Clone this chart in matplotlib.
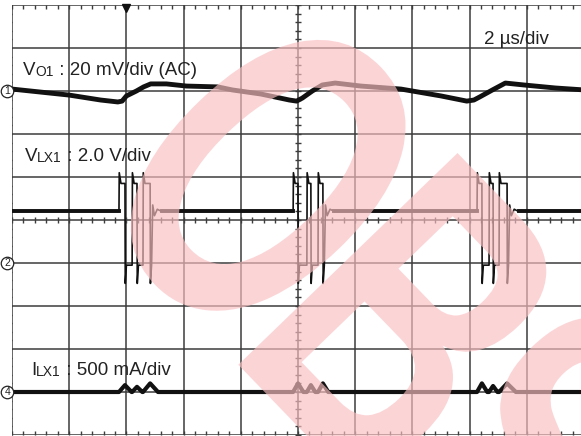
import numpy as np
import matplotlib.pyplot as plt
from matplotlib.textpath import TextPath
from matplotlib.font_manager import FontProperties
from matplotlib.patches import PathPatch
from matplotlib.path import Path
from matplotlib.transforms import Affine2D, IdentityTransform

plt.rcParams['font.family'] = ['Liberation Sans', 'DejaVu Sans']

# --- dados lidos da tela do osciloscópio ---
# base de tempo: 2 us/div, 10 div -> 0..20 us
t_min, t_max = 0.0, 20.0
trig_t = 4.0

# canal 1: Vo1 (AC) em mV, 20 mV/div
vo_t = [0.0, 2.0, 3.1, 3.7, 3.85, 4.0, 4.35, 4.6, 4.85, 5.4, 6.1, 7.2, 7.7, 8.7,
        9.7, 9.95, 10.15, 10.5, 10.85, 11.3, 12.2, 13.6, 15.0, 15.9, 16.15,
        16.35, 16.8, 17.25, 17.9, 19.0, 20.0]
vo_mv = [0.9, -1.9, -4.2, -5.1, -4.7, -2.3, 0.0, 1.9, 3.3, 3.3, 2.3, 1.9, 0.5,
         -1.4, -4.2, -4.7, -3.3, 0.0, 2.8, 3.7, 2.3, 0.9, -2.3, -4.7, -4.2,
         -2.8, 0.5, 3.7, 2.8, 1.4, 0.5]

# canal 2: VLX1 em V, 2 V/div -- bordas dos pulsos (us)
lx_rise = [[3.74, 4.20, 4.58], [9.83, 10.31, 10.70], [16.26, 16.68, 17.03]]
lx_fall = [[3.95, 4.37, 4.83], [10.00, 10.45, 10.87], [16.43, 16.82, 17.31]]
lx_idle_v = 2.4
lx_peak_v = 4.2
lx_high_v = 3.7
lx_low_v = -0.1
lx_spike_v = -0.95

# canal 4: ILX1 em mA, 500 mA/div -- pico de cada pulso
ilx_peak_ma = [[80, 60, 100], [100, 80, 100], [100, 70, 100]]

# posições dos canais (div) e escalas
ch1_pos, ch1_scale = 3, 20.0
ch2_pos, ch2_scale = -1, 2.0
ch4_pos, ch4_scale = -4, 500.0

# --- montar formas de onda a partir das bordas ---
lx_t, lx_v = [t_min], [lx_idle_v]
il_t, il_v = [t_min], [0.0]
for rises, falls, peaks in zip(lx_rise, lx_fall, ilx_peak_ma):
    prev = lx_idle_v
    for r, f, p in zip(rises, falls, peaks):
        lx_t += [r, r + 0.01, r + 0.07, f, f + 0.01, f + 0.05]
        lx_v += [prev, lx_peak_v, lx_high_v, lx_high_v, lx_spike_v, lx_low_v]
        prev = lx_low_v
        il_t += [r, f, f + (f - r) * 1.1]
        il_v += [0.0, p, 0.0]
    f = falls[-1]
    lx_t += [f + 0.09, f + 0.15, f + 0.25, f + 0.4]
    lx_v += [lx_idle_v + 0.3, lx_idle_v - 0.2, lx_idle_v + 0.1, lx_idle_v]
lx_t.append(t_max)
lx_v.append(lx_idle_v)
il_t.append(t_max)
il_v.append(0.0)

lx_t = np.array(lx_t)
lx_v = np.array(lx_v)

# --- figura ---
fig = plt.figure(figsize=(5.81, 4.36), dpi=100)
ax = fig.add_axes([12 / 581, 1 / 436, 572 / 581, 430 / 436])
ax.set_xlim(t_min, t_max)
ax.set_ylim(-5, 5)
ax.axis('off')

grid_c = '#3c3c3c'
for k in range(11):
    ax.plot([t_min + 2 * k] * 2, [-5, 5], color=grid_c, lw=1.1, zorder=1)
    ax.plot([t_min, t_max], [k - 5] * 2, color=grid_c, lw=1.1, zorder=1)

# marcas menores (bordas e eixos centrais)
xs = np.arange(t_min, t_max + 0.01, 0.4)
ys = np.arange(-5, 5.01, 0.2)
ax.plot(xs, [5] * len(xs), ls='none', marker=3, ms=3, mew=1.0, color=grid_c)
ax.plot(xs, [-5] * len(xs), ls='none', marker=2, ms=3, mew=1.0, color=grid_c)
ax.plot([t_min] * len(ys), ys, ls='none', marker=0, ms=3, mew=1.0, color=grid_c)
ax.plot(xs, [0] * len(xs), ls='none', marker='|', ms=4.5, mew=1.0, color=grid_c)
ax.plot([10] * len(ys), ys, ls='none', marker='_', ms=4.5, mew=1.0, color=grid_c)

# gatilho
ax.plot([trig_t], [4.92], marker='v', ms=5.5, color='#111111', clip_on=False)

# traços
trace_c = '#111111'
ax.plot(vo_t, ch1_pos + np.array(vo_mv) / ch1_scale, color=trace_c, lw=3.5,
        zorder=3, solid_joinstyle='round')
ax.plot(lx_t, ch2_pos + lx_v / ch2_scale, color=trace_c, lw=1.2, zorder=3)
idle = np.where(np.isclose(lx_v, lx_idle_v), lx_v, np.nan)
ax.plot(lx_t, ch2_pos + idle / ch2_scale, color=trace_c, lw=2.8, zorder=3)
ax.plot(il_t, ch4_pos + np.array(il_v) / ch4_scale, color=trace_c, lw=3.0,
        zorder=3, solid_joinstyle='round')

# marcadores de canal
for pos, lab in [(ch1_pos, '1'), (ch2_pos, '2'), (ch4_pos, '4')]:
    ax.plot([-0.17], [pos], marker='o', ms=9, mfc='white', mec='#222222',
            mew=0.9, clip_on=False, zorder=5)
    ax.text(-0.17, pos, lab, fontsize=7.5, ha='center', va='center',
            color='#222222', clip_on=False, zorder=6)


def label(x, y, big, small, rest):
    t1 = ax.text(x, y, big, fontsize=13.5, color='#222222', va='baseline')
    t2 = ax.annotate(small, xy=(1, 0), xycoords=t1, fontsize=10,
                     color='#222222', va='bottom')
    ax.annotate(rest, xy=(1, 0), xycoords=t2, fontsize=13.5,
                color='#222222', va='bottom')


label(0.39, 3.37, 'V', 'O1', ' : 20 mV/div (AC)')
label(0.45, 1.38, 'V', 'LX1', ' : 2.0 V/div')
label(0.66, -3.6, 'I', 'LX1', ' : 500 mA/div')
ax.text(16.5, 4.1, '2 \u00b5s/div', fontsize=13.5, color='#222222',
        va='baseline')

# marca d'água (letras condensadas e giradas, em pixels)
wm_prop = FontProperties(family='Liberation Sans', weight='bold')
wm_size = 443
wm_track = 0.75
o_box = TextPath((0, 0), 'O', size=wm_size, prop=wm_prop).get_extents()
i_w = TextPath((0, 0), 'I', size=wm_size, prop=wm_prop).get_extents().x1
parts = []
x_pen = 0.0
for ch in 'OBSOLETE':
    parts.append(TextPath((x_pen, 0), ch, size=wm_size, prop=wm_prop))
    adv = TextPath((0, 0), ch + 'I', size=wm_size, prop=wm_prop).get_extents().x1 - i_w
    x_pen += adv - (1 - wm_track) * wm_size * 0.25
wm_path = Path.make_compound_path(*parts)
wm_tr = (Affine2D()
         .translate(-(o_box.x0 + o_box.x1) / 2, -(o_box.y0 + o_box.y1) / 2)
         .scale(0.66, 1.0)
         .rotate_deg(-46)
         .translate(268, 436 - 176))
wm = PathPatch(wm_tr.transform_path(wm_path), transform=IdentityTransform(),
               facecolor=(0.98, 0.75, 0.76), edgecolor='none', alpha=0.66,
               zorder=10)
fig.add_artist(wm)

fig.savefig('out.png', dpi=100)
